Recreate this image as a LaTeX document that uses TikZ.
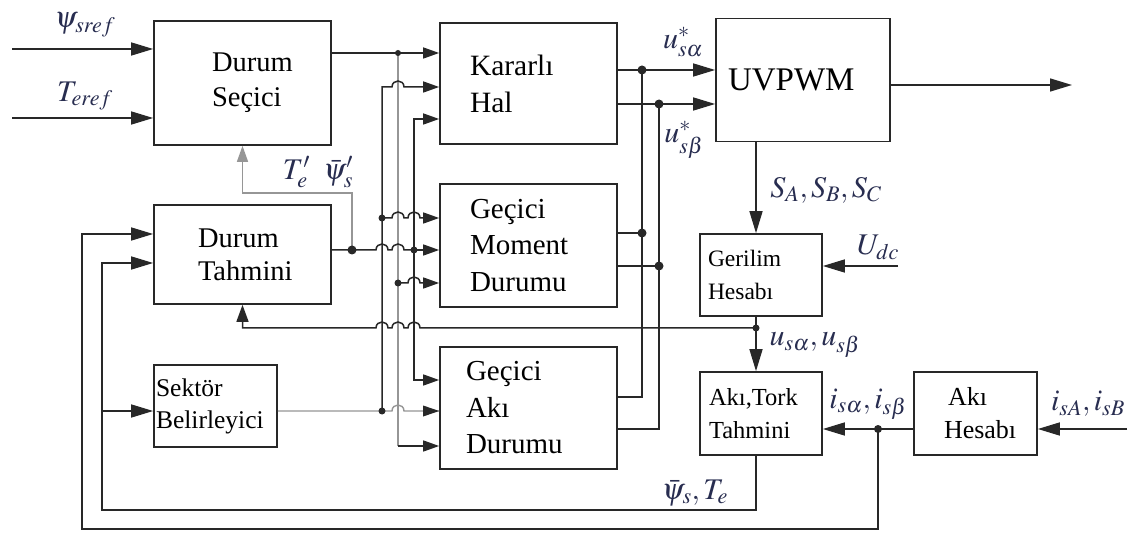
\documentclass[tikz,border=0pt]{standalone}
\usepackage{mathptmx}
\usepackage{fontspec}
\setmainfont{Liberation Serif}
\newfontfamily\boxfont{Liberation Serif}
\usetikzlibrary{arrows.meta}
\definecolor{linec}{RGB}{40,40,40}
\definecolor{busg}{RGB}{150,150,150}
\definecolor{labelc}{RGB}{40,45,80}
% hop over a vertical line at x=#1 on a horizontal line at y=#2
\newcommand\hopr[2]{-- (#1-6,#2) .. controls (#1-6,#2-8) and (#1+6,#2-8) .. (#1+6,#2)}

\begin{document}
\begin{tikzpicture}[x=1pt,y=-1pt,
  box/.style={draw=linec,line width=1.7pt,fill=white,align=left,inner ysep=0pt},
  wire/.style={draw=linec,line width=1.5pt},
  wireg/.style={draw=busg,line width=1.4pt},
  arr/.style={-{Triangle[length=22pt,width=13pt]}},
  sarr/.style={-{Triangle[length=16pt,width=11pt]}},
  rarr/.style={{Triangle[length=17pt,width=12pt]}-},
  lbl/.style={text=labelc,inner sep=0pt,font=\fontsize{30}{32}\selectfont}]
\useasboundingbox (0,0) rectangle (1145,534);
\fill[white] (0,0) rectangle (1145,534);

% blocks
\node[box,minimum width=177pt,minimum height=124pt,inner xsep=58pt,text width=61pt,
  font={\boxfont\fontsize{28.5}{35}\selectfont}] (sec) at (242.5,83) {Durum\\Seçici};
\node[box,minimum width=177pt,minimum height=121pt,inner xsep=30pt,text width=117pt,
  font={\boxfont\fontsize{29.5}{37}\selectfont}] (kar) at (528.5,83.5) {Kararlı\\Hal};
\node[box,minimum width=174pt,minimum height=123pt,inner xsep=12pt,text width=150pt,
  font={\boxfont\fontsize{33}{34}\selectfont}] (uv) at (803,80) {UVPWM};
\node[box,minimum width=177pt,minimum height=123pt,inner xsep=30pt,text width=117pt,
  font={\boxfont\fontsize{29}{36.5}\selectfont}] (gmd) at (528.5,245.5) {Geçici\\Moment\\Durumu};
\node[box,minimum width=177pt,minimum height=122pt,inner xsep=26pt,text width=125pt,
  font={\boxfont\fontsize{29}{36.5}\selectfont}] (akd) at (528.5,408) {Geçici\\Akı\\Durumu};
\node[box,minimum width=177pt,minimum height=99pt,inner xsep=44pt,text width=89pt,
  font={\boxfont\fontsize{28.5}{33}\selectfont}] (dtah) at (242.5,254.5) {Durum\\Tahmini};
\node[box,minimum width=123pt,minimum height=82pt,inner xsep=2pt,text width=119pt,
  font={\boxfont\fontsize{25.5}{32}\selectfont}] (sek) at (215.5,406) {Sektör\\Belirleyici};
\node[box,minimum width=122pt,minimum height=82pt,inner xsep=8pt,text width=106pt,
  font={\boxfont\fontsize{23.5}{33}\selectfont}] (ger) at (761,275) {Gerilim\\Hesabı};
\node[box,minimum width=122pt,minimum height=83pt,inner xsep=9pt,text width=104pt,
  font={\boxfont\fontsize{24.5}{33}\selectfont}] (akt) at (761,413.5) {Akı,Tork\\Tahmini};
\node[box,minimum width=123pt,minimum height=83pt,inner xsep=30pt,text width=63pt,
  font={\boxfont\fontsize{26}{33}\selectfont}] (akh) at (975.5,413.5) {\hspace*{4pt}Akı\\Hesabı};

% junctions and free ends
\coordinate (psiin) at (12,49);
\coordinate (tein) at (12,118);
\coordinate (jsec) at (398,53);
\coordinate (jg1) at (398,283);
\coordinate (js0) at (382,411);
\coordinate (js1) at (382,218);
\coordinate (jt0) at (352,250);
\coordinate (jt1) at (414,250);
\coordinate (ja1) at (642,70);
\coordinate (jb1) at (659,104);
\coordinate (ja2) at (642,233);
\coordinate (jb2) at (659,266);
\coordinate (uvout) at (1072,85);
\coordinate (udcin) at (898,266);
\coordinate (jg) at (756,328);
\coordinate (ji) at (878,429);
\coordinate (iin) at (1127,429);
\coordinate (jk) at (102,411);

% inputs
\draw[wire,arr] (psiin) -- (psiin -| sec.west);
\draw[wire,arr] (tein) -- (tein -| sec.west);

% Durum Secici output bus
\draw[wire] (sec.east |- jsec) -- (jsec);
\draw[wire,sarr] (jsec) -- (jsec -| kar.west);
\draw[wireg] (jsec) -- (398,446);
\draw[wire,sarr] (398,446) -- (akd.west |- 0,446);
\draw[wire,sarr] (jg1) \hopr{414}{283} -- (gmd.west |- jg1);

% Sektor bus
\draw[wireg] (sek.east |- js0) -- (js0) \hopr{398}{411} -- (akd.west |- js0);
\draw[wire,sarr] (js0) -- (382,87) \hopr{398}{87} -- (kar.west |- 0,87);
\draw[wire,sarr] (js1) \hopr{398}{218} \hopr{414}{218} -- (gmd.west |- js1);
\fill[linec] (akd.west |- js0) -- ++(-16,-5.5) -- ++(0,11) -- cycle;

% Durum Tahmini bus
\draw[wire] (dtah.east |- jt0) -- (jt0) \hopr{382}{250} \hopr{398}{250} -- (jt1);
\draw[wire,sarr] (jt1) -- (jt1 -| gmd.west);
\draw[wire,sarr] (jt1) -- (414,119) -- (kar.west |- 0,119);
\draw[wire,sarr] (jt1) -- (414,380) -- (akd.west |- 0,380);
\draw[wireg,sarr] (jt0) -- (352,193) -| (sec.south);

% voltage feedback to Durum Tahmini
\draw[wire,rarr] (dtah.south) |- (360,328) \hopr{382}{328} \hopr{398}{328} \hopr{414}{328} -- (jg);

% reference voltages
\draw[wire,arr] (kar.east |- ja1) -- (ja1) -- (ja1 -| uv.west);
\draw[wire,arr] (kar.east |- jb1) -- (jb1) -- (jb1 -| uv.west);
\draw[wire] (ja1) -- (642,397) -- (akd.east |- 0,397);
\draw[wire] (jb1) -- (659,429) -- (akd.east |- 0,429);
\draw[wire] (gmd.east |- ja2) -- (ja2);
\draw[wire] (gmd.east |- jb2) -- (jb2);

% right part
\draw[wire,arr] (uv.east |- uvout) -- (uvout);
\draw[wire,arr] (uv.south -| jg) -- (ger.north -| jg);
\draw[wire,arr] (udcin) -- (udcin -| ger.east);
\draw[wire,arr] (ger.south -| jg) -- (jg) -- (akt.north -| jg);
\draw[wire,arr] (iin) -- (iin -| akh.east);
\draw[wire,arr] (akh.west |- ji) -- (ji) -- (ji -| akt.east);

% outer loops
\draw[wire,arr] (ji) -- (878,529) -| (82,234) -- (dtah.west |- 0,234);
\draw[wire,arr] (akt.south -| jg) -- (756,510) -| (102,263) -- (dtah.west |- 0,263);
\draw[wire,arr] (jk) -- (jk -| sek.west);

% dots
\fill[linec] (jsec) circle (3pt);
\fill[linec] (jg1) circle (3.5pt);
\fill[linec] (js0) circle (3.5pt);
\fill[linec] (js1) circle (3.5pt);
\fill[linec] (jt0) circle (4.5pt);
\fill[linec] (jt1) circle (3.5pt);
\fill[linec] (ja1) circle (4.5pt);
\fill[linec] (jb1) circle (4.5pt);
\fill[linec] (ja2) circle (4.5pt);
\fill[linec] (jb2) circle (4.5pt);
\fill[linec] (jg) circle (3.5pt);
\fill[linec] (ji) circle (4pt);

% labels
\node[lbl] (lpsi) at (85,25) {$\psi_{sref}$};
\node[lbl] (lte) at (85,96) {$T_{eref}$};
\node[lbl] (lfb) at (318,172) {$T'_e\;\;\bar{\psi}'_s$};
\node[lbl] (lua) at (683,42) {$u^*_{s\alpha}$};
\node[lbl] (lub) at (684,140) {$u^*_{s\beta}$};
\node[lbl] (lsw) at (826,190) {$S_A,S_B,S_C$};
\node[lbl] (ludc) at (878,247) {$U_{dc}$};
\node[lbl] (lus) at (815,345) {$u_{s\alpha},u_{s\beta}$};
\node[lbl] (lis) at (868,404) {$i_{s\alpha},i_{s\beta}$};
\node[lbl] (liab) at (1088,404) {$i_{sA},i_{sB}$};
\node[lbl] (lpt) at (695,493) {$\bar{\psi}_s,T_e$};
\end{tikzpicture}
\end{document}
